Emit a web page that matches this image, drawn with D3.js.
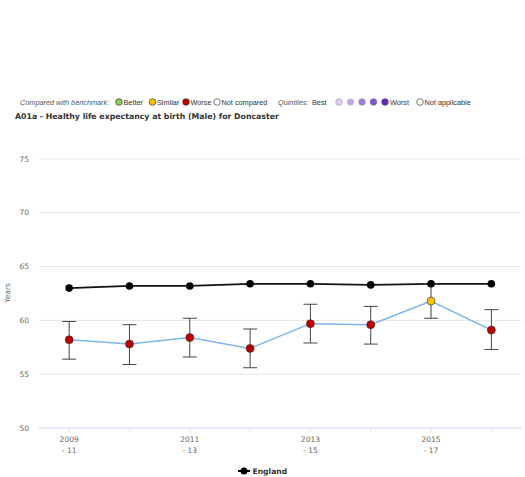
<!DOCTYPE html>
<html>
<head>
<meta charset="utf-8">
<script src="https://cdn.jsdelivr.net/npm/d3@7"></script>
<style>
  body { margin: 0; background: #fff; }
  text { font-family: "DejaVu Sans", sans-serif; }
  .lg text { font-family: "Liberation Sans", sans-serif; }
</style>
</head>
<body>
<svg width="525" height="477"></svg>
<script>
// data
let periods = ["2009 - 11", "2010 - 12", "2011 - 13", "2012 - 14", "2013 - 15",
  "2014 - 16", "2015 - 17", "2016 - 18"];
let doncaster = [58.2, 57.8, 58.4, 57.4, 59.7, 59.6, 61.8, 59.1];
let doncasterLow = [56.4, 55.9, 56.6, 55.6, 57.9, 57.8, 60.2, 57.3];
let doncasterHigh = [59.9, 59.6, 60.2, 59.2, 61.5, 61.3, 63.4, 61.0];
let compared = ["Worse", "Worse", "Worse", "Worse", "Worse", "Worse", "Similar", "Worse"];
let england = [63.0, 63.2, 63.2, 63.4, 63.4, 63.3, 63.4, 63.4];
let yTicks = [50, 55, 60, 65, 70, 75];

let benchColors = {Better: "#92d050", Similar: "#ffc000", Worse: "#c00000", "Not compared": "#ffffff"};
let quintileColors = ["#dcd0ee", "#c0a8e0", "#a07fcf", "#7d57bb", "#5a2fa5"];

let svg = d3.select("svg");

let xScale = d3.scaleBand().domain(periods).range([39, 521.5]);
let yScale = d3.scaleLinear().domain([50, 75]).range([428, 159]);
let cx = p => xScale(p) + xScale.bandwidth() / 2;

// legend row on top
let legend = svg.append("g").attr("class", "lg")
  .attr("font-size", 7.3).attr("fill", "#333");
legend.append("text").attr("x", 20).attr("y", 104.5)
  .attr("font-style", "italic").attr("fill", "#555")
  .text("Compared with benchmark:");
let benchItems = [["Better", 119], ["Similar", 152.5], ["Worse", 186], ["Not compared", 217]];
benchItems.forEach(([k, x]) => {
  legend.append("circle").attr("cx", x).attr("cy", 102).attr("r", 3.3)
    .attr("fill", benchColors[k]).attr("stroke", "#222").attr("stroke-width", 0.6);
  legend.append("text").attr("x", x + 4.5).attr("y", 104.5).text(k);
});
legend.append("text").attr("x", 278).attr("y", 104.5)
  .attr("font-style", "italic").attr("fill", "#555").text("Quintiles:");
legend.append("text").attr("x", 312).attr("y", 104.5).text("Best");
quintileColors.forEach((c, i) => {
  legend.append("circle").attr("cx", 339 + i * 11.5).attr("cy", 102).attr("r", 3.3)
    .attr("fill", c).attr("stroke", i == 0 ? "#a08cc8" : c).attr("stroke-width", 0.6);
});
legend.append("text").attr("x", 390).attr("y", 104.5).text("Worst");
legend.append("circle").attr("cx", 420).attr("cy", 102).attr("r", 3.3)
  .attr("fill", "#fff").attr("stroke", "#222").attr("stroke-width", 0.6);
legend.append("text").attr("x", 424.5).attr("y", 104.5).text("Not applicable");

// title
svg.append("text").attr("x", 15).attr("y", 119)
  .attr("font-size", 7.8).attr("font-weight", "bold").attr("fill", "#333")
  .text("A01a - Healthy life expectancy at birth (Male) for Doncaster");

// grid + y axis labels
svg.append("g").selectAll("line")
  .data(yTicks.slice(1))
  .join("line")
  .attr("x1", 39).attr("x2", 521.5)
  .attr("y1", d => yScale(d)).attr("y2", d => yScale(d))
  .attr("stroke", "#e6e6e6").attr("stroke-width", 1);

svg.append("g").selectAll("text")
  .data(yTicks)
  .join("text")
  .attr("x", 29).attr("y", d => yScale(d) + 2.5)
  .attr("text-anchor", "end").attr("font-size", 7.5).attr("fill", "#666")
  .text(d => d);

svg.append("text")
  .attr("transform", "translate(10,293) rotate(-90)")
  .attr("text-anchor", "middle").attr("font-size", 7.5).attr("fill", "#666")
  .text("Years");

// x axis
svg.append("line").attr("x1", 39).attr("x2", 521.5)
  .attr("y1", yScale(50)).attr("y2", yScale(50))
  .attr("stroke", "#ccd6eb").attr("stroke-width", 1);

svg.append("g").selectAll("line")
  .data(periods)
  .join("line")
  .attr("x1", d => cx(d)).attr("x2", d => cx(d))
  .attr("y1", yScale(50)).attr("y2", yScale(50) + 4)
  .attr("stroke", "#e3e8f2");

let xLabels = svg.append("g").selectAll("text")
  .data(periods.filter((d, i) => i % 2 == 0))
  .join("text")
  .attr("text-anchor", "middle").attr("font-size", 7.5).attr("fill", "#666");
xLabels.append("tspan").attr("x", d => cx(d)).attr("y", 442)
  .text(d => d.split(" - ")[0]);
xLabels.append("tspan").attr("x", d => cx(d)).attr("y", 452.5)
  .text(d => "- " + d.split(" - ")[1].trim());

// england line
let englandLine = d3.line().x((d, i) => cx(periods[i])).y(d => yScale(d));
svg.append("path").datum(england)
  .attr("d", englandLine)
  .attr("fill", "none").attr("stroke", "#111").attr("stroke-width", 1.8);

// doncaster line
svg.append("path").datum(doncaster)
  .attr("d", englandLine)
  .attr("fill", "none").attr("stroke", "#7cb5ec").attr("stroke-width", 1.5);

// error bars
let bars = svg.append("g").attr("stroke", "#444").attr("stroke-width", 1);
periods.forEach((p, i) => {
  bars.append("line").attr("x1", cx(p)).attr("x2", cx(p))
    .attr("y1", yScale(doncasterLow[i])).attr("y2", yScale(doncasterHigh[i]));
  [doncasterLow[i], doncasterHigh[i]].forEach(v => {
    bars.append("line").attr("x1", cx(p) - 7).attr("x2", cx(p) + 7)
      .attr("y1", yScale(v)).attr("y2", yScale(v));
  });
});

// england markers
svg.append("g").selectAll("circle")
  .data(england)
  .join("circle")
  .attr("cx", (d, i) => cx(periods[i])).attr("cy", d => yScale(d))
  .attr("r", 3.8).attr("fill", "#000");

// doncaster markers
svg.append("g").selectAll("circle")
  .data(doncaster)
  .join("circle")
  .attr("cx", (d, i) => cx(periods[i])).attr("cy", d => yScale(d))
  .attr("r", 4).attr("fill", (d, i) => benchColors[compared[i]])
  .attr("stroke", "#333").attr("stroke-width", 0.6);

// bottom legend
let bl = svg.append("g");
bl.append("line").attr("x1", 238).attr("x2", 250).attr("y1", 471).attr("y2", 471)
  .attr("stroke", "#000").attr("stroke-width", 2);
bl.append("circle").attr("cx", 244).attr("cy", 471).attr("r", 3.5).attr("fill", "#000");
bl.append("text").attr("x", 252.5).attr("y", 474)
  .attr("font-size", 7.6).attr("font-weight", "bold").attr("fill", "#333")
  .text("England");
</script>
</body>
</html>
